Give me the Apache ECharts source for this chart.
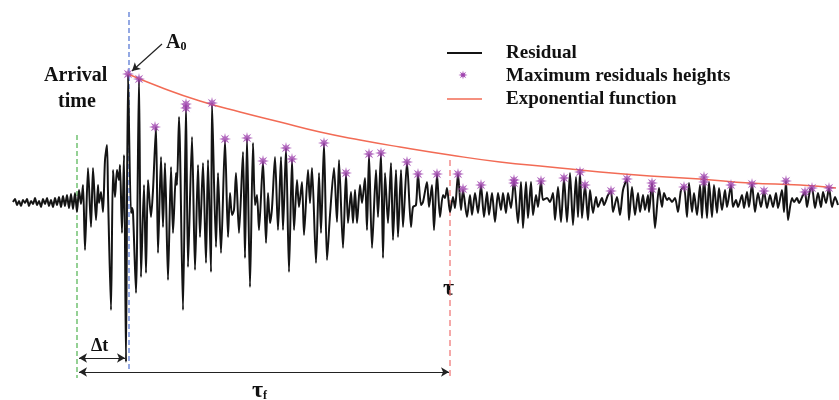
<!DOCTYPE html>
<html>
<head>
<meta charset="utf-8">
<script src="https://cdn.jsdelivr.net/npm/echarts@6/dist/echarts.min.js"></script>
<style>html,body{margin:0;padding:0;background:#fff}#c{width:839px;height:400px}</style>
</head>
<body>
<div id="c"></div>
<script>
// Residual signal turning points: [time, amplitude]
var residual = [
[13,-2],[15,1],[17,-5],[19,-1],[21,-6],[23,0],[25,-3],[27,1],[29,-6],[31,-1],[33,-4],[35,2],[37,-5],[39,-1],[41,-7],[43,1],[45,-4],[47,2],[49,-6],[51,0],[53,-7],[55,2],[57,-5],[59,3],[61,-7],[63,4],[65,-6],[67,5],[69,-8],[71,6],[73,-9],[75,7],[77,-12],
[79,10],[81,-4],[83,15],[85,-50],[88,32],[91,-27],[93,32],[96,-20],[98,15],[99,-3],[101,8],[103,-12],[105,40],[107,55],[108,7],[111,-110],[113,30],[115,3],[117,30],[119,20],[120,35],[122,-33],[124,45],[126,-162],[128,126],[131,-13],[132,-8],[133,-12],[136,-93],[139,122],[141,-77],[144,15],[146,-73],[148,20],[151,-17],[153,10],[156,73],[158,-53],[161,43],[163,-27],[165,37],[168,-80],[171,33],[173,-33],[176,27],[177,15],[179,83],[183,-110],[186,95],[188,-67],[192,63],[195,-70],[198,35],[200,-37],[203,37],[206,-63],[208,40],[211,-72],[212,97],[216,-47],[218,27],[221,-53],[225,60],[228,-37],[230,7],[232,-15],[234,-10],[236,27],[239,-33],[243,48],[245,-58],[247,62],[250,-87],[253,57],[255,-5],[257,5],[259,-30],[263,39],[266,-43],[268,7],[270,-23],[272,-8],[275,43],[278,-30],[281,43],[283,-30],[286,52],[289,-72],[292,41],[294,-30],[297,20],[299,-7],[302,18],[304,-35],[308,30],[310,-3],[312,32],[316,-63],[319,27],[321,-33],[324,57],[327,-60],[330,-15],[334,32],[337,-22],[339,40],[343,-48],[346,27],[348,-23],[351,8],[353,-23],[355,10],[357,-23],[360,15],[362,-3],[365,22],[367,-30],[369,46],[372,-48],[376,30],[378,-17],[381,47],[383,-58],[385,27],[388,-23],[391,37],[393,-40],[396,30],[398,-37],[401,30],[403,-27],[407,38],[411,-27],[413,-7],[416,-5],[418,26],[421,-5],[423,-2],[427,18],[429,-7],[432,15],[434,-30],[437,26],[440,-17],[443,5],[445,2],[447,12],[450,-12],[453,3],[455,-8],[458,26],[461,-10],[463,10],[467,-17],[470,5],[472,-15],[475,7],[478,-13],[481,15],[484,-17],[487,8],[489,-15],[492,7],[495,-22],[498,7],[501,-10],[503,7],[506,-13],[508,7],[511,-8],[514,20],[518,-23],[521,18],[523,-28],[526,18],[528,-18],[531,18],[533,-15],[536,5],[538,-7],[541,19],[543,0],[547,2],[550,-2],[553,7],[555,-20],[558,13],[561,-22],[564,22],[567,-22],[570,27],[573,-25],[576,23],[578,-17],[580,28],[582,-18],[585,15],[588,-20],[590,10],[593,-13],[596,3],[598,-7],[602,2],[604,-5],[608,5],[611,9],[613,-12],[617,3],[620,-15],[623,10],[627,21],[629,-20],[632,13],[635,-15],[638,7],[640,-12],[643,5],[645,-10],[648,5],[649,-12],[652,17],[655,-28],[659,12],[662,-7],[664,7],[667,0],[669,2],[672,-2],[675,2],[678,-12],[681,10],[684,13],[687,-17],[689,17],[692,-12],[694,7],[697,-15],[700,15],[702,-18],[704,23],[707,-18],[709,18],[712,-17],[714,15],[717,-13],[719,12],[722,-10],[725,10],[727,-7],[731,15],[733,-7],[736,0],[738,-7],[742,5],[744,-8],[747,8],[749,-7],[752,16],[755,-12],[758,7],[761,-7],[764,9],[767,-8],[770,5],[773,-7],[776,7],[778,-8],[782,10],[784,-12],[786,19],[788,-20],[792,2],[794,-2],[797,2],[799,-3],[803,5],[805,8],[807,-7],[810,10],[812,12],[815,-8],[818,7],[821,-7],[823,8],[826,-3],[829,12],[832,-7],[835,3],[838,-5]
];
// Maximum residual heights
var maxPeaks = [
[128,126],[139,121],[155,73],[186,96],[186,92],[212,97],[225,61],[247,62],[263,39],[286,52],[292,41],[324,57],[346,27],[369,46],[381,47],[407,38],[418,26],[437,26],[458,26],[463,11],[481,15],[514,20],[514,17],[541,19],[564,22],[580,28],[585,15],[611,9],[627,21],[652,17],[652,11],[684,13],[704,23],[704,18],[731,15],[752,16],[764,9],[786,19],[805,8],[812,12],[829,12]
];
// Exponential envelope
var expCurve = [
[128,126],[160,113],[200,99],[240,88],[280,78],[320,68],[360,60],[400,53],[450,45],[500,38],[550,33],[600,28],[650,24],[700,21],[750,17],[800,15],[836,12]
];
// Event markers (time) and their vertical extents
var arrivalGreen = [[77,65],[77,-178]];
var arrivalBlue = [[129,188],[129,-172]];
var tauLine = [[450,40],[450,-178]];
var dtArrow = [[79,-158],[125,-158]];
var tauFArrow = [[79,-172],[449,-172]];
var a0Arrow = [[162,156],[132,129]];

var names = ['Residual','Maximum residuals heights','Exponential function'];
var serif = "'Liberation Serif','Times New Roman',serif";
var starPath = 'path://M10 0 L3.6 1.5 L7.07 7.07 L1.5 3.6 L0 10 L-1.5 3.6 L-7.07 7.07 L-3.6 1.5 L-10 0 L-3.6 -1.5 L-7.07 -7.07 L-1.5 -3.6 L0 -10 L1.5 -3.6 L7.07 -7.07 L3.6 -1.5 Z';
var starColor = '#9f42ae', expColor = '#f26b55', resColor = '#141414';

// legend star glyph as polygon
var legStar = [];
for (var k = 0; k < 16; k++) {
  var ang = k * Math.PI / 8, r = (k % 2 === 0) ? 4.6 : 1.7;
  legStar.push([463 + r * Math.cos(ang), 75 + r * Math.sin(ang)]);
}

var chart = echarts.init(document.getElementById('c'), null, {renderer:'canvas'});

function vline(data, color, dash){
  return {type:'line', data:data, symbol:'none', silent:true, z:1,
    lineStyle:{color:color, width:1.3, type:dash}};
}
function arrowLine(data, syms){
  return {type:'line', data:[], symbol:'none', silent:true,
    markLine:{silent:true, symbol:syms, symbolSize:[7,8], label:{show:false},
      lineStyle:{color:'#222', width:1.2, type:'solid'},
      emphasis:{disabled:true},
      data:[[{coord:data[0]},{coord:data[1]}]]}};
}
function legText(t, y){
  return {type:'text', left:506, top:y, style:{text:t, font:'bold 19px '+serif, fill:'#111'}};
}

chart.setOption({
  animation:false,
  backgroundColor:'#fff',
  grid:{left:0,right:0,top:0,bottom:0},
  xAxis:{type:'value', min:0, max:839, show:false},
  yAxis:{type:'value', min:-200, max:200, show:false},
  series:[
    vline(arrivalGreen,'#5cb85c',[5,3]),
    vline(arrivalBlue,'#5b7bd5',[5,3]),
    vline(tauLine,'#f07a7a',[6,4]),
    {name:names[0], type:'line', data:residual, symbol:'none', smooth:0.25, z:2,
      lineStyle:{color:resColor, width:2}},
    {name:names[2], type:'line', data:expCurve, symbol:'none', smooth:true, z:3,
      lineStyle:{color:expColor, width:1.5}},
    {name:names[1], type:'scatter', data:maxPeaks, symbol:starPath, symbolSize:12, symbolKeepAspect:true, z:4,
      itemStyle:{color:starColor}},
    arrowLine(dtArrow,['arrow','arrow']),
    arrowLine(tauFArrow,['arrow','arrow']),
    arrowLine(a0Arrow,['none','arrow'])
  ],
  graphic:[
    {type:'line', shape:{x1:447,y1:53,x2:482,y2:53}, style:{stroke:resColor, lineWidth:2}},
    {type:'polygon', shape:{points:legStar}, style:{fill:starColor}},
    {type:'line', shape:{x1:447,y1:99,x2:482,y2:99}, style:{stroke:expColor, lineWidth:1.5}},
    legText(names[0], 44),
    legText(names[1], 67),
    legText(names[2], 90),
    {type:'text', left:44, top:66, style:{text:'Arrival', font:'bold 20px '+serif, fill:'#111'}},
    {type:'text', left:58, top:92, style:{text:'time', font:'bold 20px '+serif, fill:'#111'}},
    {type:'text', left:166, top:33, style:{text:'{a|A}{s|0}', rich:{a:{font:'bold 20px '+serif, fill:'#111'}, s:{font:'bold 12px '+serif, fill:'#111', padding:[8,0,0,0]}}}},
    {type:'text', left:442, top:277, style:{text:'τ', font:'bold 24px '+serif, fill:'#111', backgroundColor:'#fff', padding:[0,1]}},
    {type:'text', left:91, top:337, style:{text:'Δt', font:'bold 18px '+serif, fill:'#111'}},
    {type:'text', left:252, top:379, style:{text:'{a|τ}{s|f}', rich:{a:{font:'bold 24px '+serif, fill:'#111'}, s:{font:'bold 12px '+serif, fill:'#111', padding:[10,0,0,0]}}}}
  ]
});
</script>
</body>
</html>
